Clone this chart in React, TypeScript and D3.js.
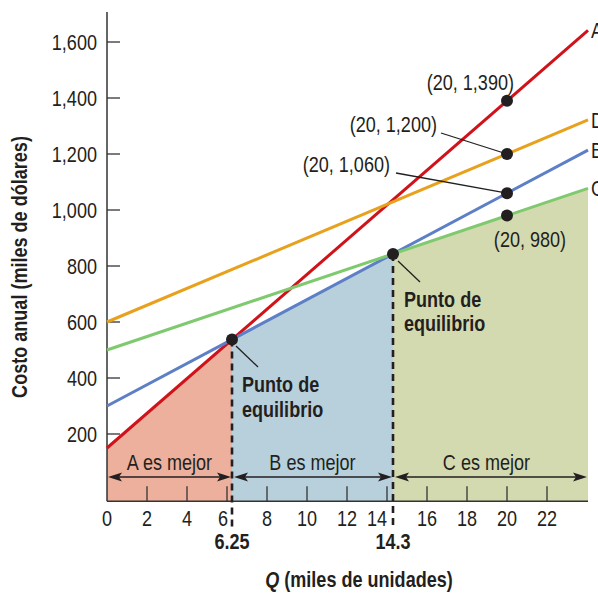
import React from "react";
import * as d3 from "d3";

// ---- data ----
const lineNames = ["A", "B", "C", "D"];
const fixedCosts = [150, 300, 500, 600];
const variableCosts = [62, 38, 24, 30];
const lineColors = ["#d0121b", "#5d7fc6", "#7fc96f", "#e8a11c"];
const breakEvenQ = [6.25, 14.3];
const breakEvenLabels = ["6.25", "14.3"];
const regionLines = ["A", "B", "C"];
const regionLabels = ["A es mejor", "B es mejor", "C es mejor"];
const regionColors = ["#edb09c", "#b7d0dc", "#d3dab0"];
const xTicks = [0, 2, 4, 6, 8, 10, 12, 14, 16, 18, 20, 22];
const yTicks = [200, 400, 600, 800, 1000, 1200, 1400, 1600];
const markerQ = 20;
const markerValues = [1390, 1200, 1060, 980];
const markerLabels = ["(20, 1,390)", "(20, 1,200)", "(20, 1,060)", "(20, 980)"];

const FONT = '"Liberation Sans", Arial, sans-serif';
const INK = "#231f20";

type TProps = {
  x: number; y: number; anchor?: string; size?: number; bold?: boolean;
  rotate?: number; dy?: string; children: React.ReactNode;
};
const T = ({ x, y, anchor = "start", size = 21.5, bold = false, rotate, dy, children }: TProps) => (
  <g transform={`translate(${x},${y})${rotate ? ` rotate(${rotate})` : ""} scale(0.84,1)`}>
    <text textAnchor={anchor} fontSize={size} fontWeight={bold ? "bold" : "normal"} dy={dy} fill={INK}>
      {children}
    </text>
  </g>
);

export default function App() {
  const W = 598, H = 594;
  const qMax = 24.05;
  const x = d3.scaleLinear().domain([0, 20]).range([107, 507]);
  const y = d3.scaleLinear().domain([0, 1600]).range([490, 42]);
  const yBottom = y(-40);
  const yTop = 12;
  const cost = (name: string, q: number) => {
    const i = lineNames.indexOf(name);
    return fixedCosts[i] + variableCosts[i] * q;
  };
  const lineGen = d3.line<[number, number]>().x(d => x(d[0])).y(d => y(d[1]));
  const bounds = [0, ...breakEvenQ, qMax];
  const arrowY = 477;

  const arrow = (x1: number, x2: number, key: string) => {
    const L = 14, hw = 4.5;
    return (
      <g key={key}>
        <line x1={x1 + 4} x2={x2 - 4} y1={arrowY} y2={arrowY} stroke={INK} strokeWidth={1.4} />
        <path d={`M${x1},${arrowY} L${x1 + L},${arrowY - hw} L${x1 + L - 3},${arrowY} L${x1 + L},${arrowY + hw} Z`} fill={INK} />
        <path d={`M${x2},${arrowY} L${x2 - L},${arrowY - hw} L${x2 - L + 3},${arrowY} L${x2 - L},${arrowY + hw} Z`} fill={INK} />
      </g>
    );
  };

  const tickLabelShift: Record<number, number> = { 6: -4, 14: -10 };

  return (
    <svg width={W} height={H} style={{ position: "absolute", left: 0, top: 0, fontFamily: FONT }}>
      <rect width={W} height={H} fill="#fff" />
      {/* shaded regions */}
      {regionLines.map((nm, i) => {
        const q0 = bounds[i], q1 = bounds[i + 1];
        const d = `M${x(q0)},${yBottom} L${x(q0)},${y(cost(nm, q0))} L${x(q1)},${y(cost(nm, q1))} L${x(q1)},${yBottom} Z`;
        return <path key={nm} d={d} fill={regionColors[i]} />;
      })}
      {/* region arrows and labels */}
      {regionLines.map((nm, i) => {
        const x1 = x(bounds[i]) + (i === 0 ? 1 : 2);
        const x2 = x(bounds[i + 1]) - 1;
        return arrow(x1, x2, "ar" + nm);
      })}
      {regionLabels.map((t, i) => (
        <T key={t} x={(x(bounds[i]) + x(bounds[i + 1])) / 2 + (i === 2 ? -4 : 0)} y={470} anchor="middle">{t}</T>
      ))}
      {/* axes */}
      <line x1={107} x2={107} y1={yTop} y2={yBottom} stroke="#333" strokeWidth={1.5} />
      <line x1={107} x2={x(qMax)} y1={yBottom} y2={yBottom} stroke="#333" strokeWidth={1.5} />
      {yTicks.map(v => (
        <g key={"y" + v}>
          <line x1={107} x2={120} y1={y(v)} y2={y(v)} stroke="#333" strokeWidth={1.3} />
          <T x={97} y={y(v)} dy="0.36em" anchor="end">{d3.format(",")(v)}</T>
        </g>
      ))}
      {xTicks.map(v => (
        <g key={"x" + v}>
          {v > 0 && <line x1={x(v)} x2={x(v)} y1={yBottom - 15} y2={yBottom} stroke="#333" strokeWidth={1.3} />}
          <T x={x(v) + (tickLabelShift[v] || 0)} y={526} anchor="middle">{v}</T>
        </g>
      ))}
      {/* cost lines */}
      {lineNames.map((nm, i) => (
        <g key={"l" + nm}>
          <path d={lineGen([[0, cost(nm, 0)], [qMax, cost(nm, qMax)]]) || ""} stroke={lineColors[i]} strokeWidth={3} fill="none" />
          <T x={x(qMax) + 3} y={y(cost(nm, qMax)) + 8}>{nm}</T>
        </g>
      ))}
      {/* break-even dashed lines */}
      {breakEvenQ.map((q, i) => {
        const v = cost(regionLines[i + 1], q);
        return (
          <g key={"be" + q}>
            <line x1={x(q)} x2={x(q)} y1={y(v)} y2={528} stroke={INK} strokeWidth={2.6} strokeDasharray="7,5" />
            <T x={x(q)} y={549} anchor="middle" bold>{breakEvenLabels[i]}</T>
            <circle cx={x(q)} cy={y(v)} r={6} fill={INK} />
          </g>
        );
      })}
      {/* equilibrium annotations */}
      <line x1={236} y1={346} x2={258} y2={367} stroke={INK} strokeWidth={1.3} />
      <T x={242} y={392} bold>Punto de</T>
      <T x={242} y={417} bold>equilibrio</T>
      <line x1={398} y1={261} x2={420} y2={282} stroke={INK} strokeWidth={1.3} />
      <T x={404} y={307} bold>Punto de</T>
      <T x={404} y={331} bold>equilibrio</T>
      {/* markers at Q = 20 */}
      {markerValues.map(v => (
        <circle key={"m" + v} cx={x(markerQ)} cy={y(v)} r={6} fill={INK} />
      ))}
      <T x={514} y={90} anchor="end">{markerLabels[0]}</T>
      <line x1={441} y1={133} x2={x(markerQ)} y2={y(markerValues[1])} stroke={INK} strokeWidth={1.3} />
      <T x={437} y={132} anchor="end">{markerLabels[1]}</T>
      <line x1={396} y1={173} x2={x(markerQ)} y2={y(markerValues[2])} stroke={INK} strokeWidth={1.3} />
      <T x={390} y={172} anchor="end">{markerLabels[2]}</T>
      <T x={530} y={247} anchor="middle">{markerLabels[3]}</T>
      {/* axis titles */}
      <T x={359} y={587} anchor="middle" bold>
        <tspan fontStyle="italic">Q</tspan> (miles de unidades)
      </T>
      <T x={27} y={267} rotate={-90} anchor="middle" bold>
        Costo anual (miles de dólares)
      </T>
    </svg>
  );
}
